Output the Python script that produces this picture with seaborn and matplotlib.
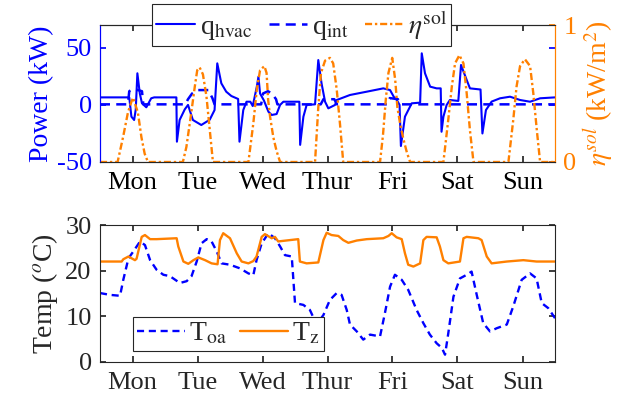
import numpy as np
import pandas as pd
import matplotlib
matplotlib.use("Agg")
import matplotlib.pyplot as plt
import seaborn as sns

# ---------------- data (hours from Monday 00:00) ----------------
days = ["Mon", "Tue", "Wed", "Thur", "Fri", "Sat", "Sun"]
day_ticks = [12, 36, 60, 84, 108, 132, 156]

hvac_h = [0, 10.8, 11.6, 12.6, 13.2, 13.8, 14.7, 15.5, 17.1, 18.9, 20, 28.2, 28.4, 29.4, 31.3,
          32.5, 34.3, 37.4, 40.5, 42.3, 43.3, 44.8, 46.6, 48.5, 51.0, 51.5, 52.9, 54.1, 55.5,
          56.4, 57.9, 58.5, 59.1, 60.5, 62.2, 63.4, 65.2, 66.5, 67.7, 73.6, 73.9, 75.1, 76.3,
          79.4, 80.6, 81.8, 83.1, 84.3, 86.8, 87.4, 92.3, 98.5, 104.6, 107.1, 108.5, 109.6,
          110.6, 111.1, 112.6, 115.1, 118.2, 118.8, 120, 121.9, 124.3, 125.8, 126.1, 126.8, 128,
          129.2, 132.3, 133.3, 135.4, 136.6, 140.5, 141.2, 142.5, 144.6, 147.7, 151.4, 155.1,
          158.8, 162.5, 168]
hvac_kw = [6.6, 6.6, -10.3, -13.2, -4, 27.7, 10, 1.4, -2.1, 5.8, 6.6, 6.6, -32.2, -13.2, -3.9,
           0, -13.2, -17.6, -13, -4.5, 36.4, 18.9, 11.6, 7.8, 5.2, -32.2, -4.5, 2.8, 2.8,
           -1, 16, 24.7, 10, 4, -6, -8.8, -8, 0, 2.8, 2.8, -35, -10.3, 0,
           0.5, 39.3, 18.9, 2.8, -3, 0, 4.3, 8.7, 11.6, 14.5, 13, 7, 4.3,
           0, -36, -10.3, 1.4, 2, 45.2, 27.7, 16, 14.5, 14.5, -23.5, -10.3, 0,
           4.3, 3.5, 35, 21.8, 14.5, 13.5, -25, -4.5, 2.9, 5.8, 7.2, 4.3,
           2.8, 5.8, 6.6]

int_h = [0, 10.3, 10.8, 12, 14, 15.5, 16, 31.5, 32.5, 34, 36, 40, 41.5, 42.3, 59.5, 60.2, 62,
         63.5, 65, 65.5, 81.5, 82.5, 86.5, 87.5, 106, 107, 110, 111, 168]
int_kw = [0.5, 0.5, 12, 14, 13, 12, 0.5, 0.5, 5, 10, 13, 13, 6, 0.5, 0.5, 10, 12,
          10, 5, 0.5, 0.5, 5, 5, 0.5, 0.5, 6, 5, 0.5, 0.5]

sol_h = [0, 6.5, 8.5, 10.3, 11.6, 12.2, 14, 15.3, 16.5, 17.7,
         30.6, 31.9, 33.7, 35, 35.9, 36.8, 38, 39.3, 40.5, 41.7,
         54.8, 56.6, 57.9, 59.1, 60.7, 61.5, 62.1, 62.8, 64, 65.2, 66.5,
         79.4, 80.6, 81.6, 83.1, 84.9, 86.1, 87.4, 88.6, 89.8,
         103.4, 104.5, 105.5, 106.5, 107.9, 109, 109.8, 110.8, 112, 113.3, 114.5,
         126.8, 128.6, 129.9, 131.1, 132.7, 134.2, 135.4, 136.6, 137.9,
         150.8, 152.6, 153.8, 155.1, 156.9, 158.8, 160, 161.3, 162.5, 168]
sol_kwm2 = [0, 0, 0.18, 0.36, 0.44, 0.47, 0.36, 0.18, 0.06, 0,
            0, 0.11, 0.36, 0.55, 0.67, 0.69, 0.64, 0.48, 0.24, 0,
            0, 0.28, 0.53, 0.67, 0.70, 0.65, 0.45, 0.33, 0.18, 0.08, 0,
            0, 0.40, 0.65, 0.74, 0.76, 0.72, 0.53, 0.28, 0,
            0, 0.2, 0.45, 0.65, 0.76, 0.6, 0.4, 0.28, 0.17, 0.07, 0,
            0, 0.31, 0.55, 0.72, 0.78, 0.72, 0.5, 0.23, 0,
            0, 0.31, 0.55, 0.70, 0.75, 0.70, 0.5, 0.23, 0, 0]

toa_h = [0, 3.7, 7.4, 8.6, 10.5, 12.3, 14.8, 16.6, 18.5, 20.9, 23.4, 25.8, 29.5, 32.0, 33.8,
         35.7, 37.5, 39.4, 41.2, 43.1, 44.9, 48.0, 51.7, 54.8, 56.6, 57.8, 59.7, 62.2, 64.6,
         66.5, 68.3, 70.8, 71.4, 72.0, 75.1, 77.5, 80.0, 82.5, 84.9, 87.4, 89.2, 91.1, 92.3,
         94.8, 97.2, 99.7, 103.4, 105.2, 107.1, 108.9, 111.4, 113.8, 116.9, 119.4, 121.8,
         124.3, 126.2, 127.4, 128.6, 130.5, 132.9, 135.4, 137.2, 139.1, 141.5, 144.0, 146.5,
         150.2, 152.6, 155.7, 158.8, 161.2, 163.1, 165.5, 168.0]
toa_c = [15.1, 14.7, 14.5, 18.0, 22.7, 24.2, 26.4, 25.6, 22.3, 20.2, 19.1, 18.8, 17.3, 17.7, 18.8,
         22.0, 26.0, 26.9, 26.4, 24.2, 21.6, 21.3, 20.5, 19.4, 19.0, 22.3, 26.0, 28.2, 27.1,
         25.3, 23.4, 23.1, 18.0, 12.9, 12.5, 11.4, 8.2, 10.3, 13.6, 15.1, 14.7, 11.4, 8.2,
         6.7, 4.9, 6.0, 5.6, 10.7, 16.5, 19.1, 18.0, 15.8, 11.4, 8.5, 6.0,
         4.1, 3.1, 1.6, 6.3, 14.3, 18.3, 19.1, 19.8, 14.7, 8.5, 6.7, 7.4,
         8.2, 12.2, 18.0, 19.4, 18.3, 12.9, 11.8, 9.6]

tz_h = [0, 8.0, 8.6, 10.5, 12.9, 13.5, 15.4, 16.6, 18.5, 20.9, 28.3, 28.9, 30.8, 32.6, 34.5,
        36.3, 38.8, 41.2, 43.4, 44.3, 45.5, 48.0, 50.5, 52.3, 54.8, 56.6, 57.8, 59.7, 60.9,
        63.4, 64.6, 65.8, 70.2, 73.2, 73.8, 76.3, 80.6, 82.5, 83.7, 85.5, 88.0, 89.8, 91.7,
        94.8, 98.5, 104.6, 106.5, 107.7, 109.5, 111.4, 112.6, 113.8, 115.7, 118.2, 119.4,
        120.6, 124.3, 125.5, 126.8, 128.6, 132.9, 134.2, 135.4, 139.7, 140.9, 142.8, 144.6,
        150.2, 156.3, 161.2, 168.0]
tz_c = [22.0, 22.0, 22.5, 23.1, 22.3, 22.6, 27.4, 27.8, 26.9, 26.9, 27.1, 25.3, 22.0, 21.5, 22.3,
        22.9, 22.3, 21.6, 21.4, 26.7, 28.2, 27.1, 23.8, 22.0, 21.6, 22.1, 23.1, 27.4, 28.0,
        27.1, 27.4, 26.4, 26.7, 26.9, 22.0, 21.6, 21.8, 26.7, 28.3, 27.8, 27.6, 26.7, 26.1,
        26.6, 26.9, 27.1, 27.6, 28.2, 27.3, 26.9, 23.8, 21.3, 20.9, 21.6, 26.7,
        27.4, 27.3, 25.3, 22.3, 21.6, 22.0, 27.1, 27.4, 27.1, 26.7, 23.1, 21.6,
        22.0, 22.3, 22.0, 22.0]

# ---------------- style ----------------
sns.set_theme(style="ticks")
plt.rcParams["font.family"] = ["Liberation Serif", "DejaVu Serif"]
plt.rcParams["mathtext.fontset"] = "stix"
plt.rcParams["font.size"] = 19
plt.rcParams["xtick.labelsize"] = 19
plt.rcParams["ytick.labelsize"] = 19
plt.rcParams["axes.labelsize"] = 20
plt.rcParams["axes.unicode_minus"] = False

BLUE = "#0000FF"
ORANGE = "#FF8000"
GRAY = "#262626"
LW = 1.5

fig = plt.figure(figsize=(6.21, 4.04), dpi=100)
W, H = 621, 404
ax1 = fig.add_axes([100 / W, (H - 162) / H, 455 / W, 137 / H])
ax3 = fig.add_axes([100 / W, (H - 362) / H, 455 / W, 137 / H])
ax2 = ax1.twinx()

# top: power
sns.lineplot(x=hvac_h, y=hvac_kw, ax=ax1, color=BLUE, lw=LW, sort=False, estimator=None,
             label=r"q$_{\rm hvac}$", legend=False)
sns.lineplot(x=int_h, y=int_kw, ax=ax1, color=BLUE, lw=LW + 0.3, sort=False, estimator=None,
             linestyle=(0, (4, 2.5)), label=r"q$_{\rm int}$", legend=False)
sns.lineplot(x=sol_h, y=sol_kwm2, ax=ax2, color=ORANGE, lw=LW + 0.2, sort=False, estimator=None,
             linestyle=(0, (3, 1.2, 1, 1.2)), label=r"$\eta^{\rm sol}$", legend=False)

ax1.set_xlim(0, 168)
ax1.set_ylim(-50, 70)
ax1.set_yticks([-50, 0, 50])
ax2.set_ylim(0, 1)
ax2.set_yticks([0, 1])
ax1.set_xticks(day_ticks)
ax1.set_xticklabels(days)
ax1.set_ylabel("Power (kW)", color=BLUE, labelpad=2)
ax2.set_ylabel(r"$\eta^{sol}$ (kW/m$^2$)", color=ORANGE, labelpad=4)

ax1.tick_params(axis="x", direction="in", length=4, top=True, color=GRAY, labelcolor="black", pad=7)
ax1.tick_params(axis="y", direction="in", length=4, right=True, color=BLUE, labelcolor=BLUE, pad=6)
ax2.tick_params(axis="y", direction="in", length=4, color=ORANGE, labelcolor=ORANGE, pad=6)
for ax in (ax1, ax2):
    ax.spines["top"].set_color(GRAY)
    ax.spines["bottom"].set_color(GRAY)
    ax.spines["left"].set_color(BLUE)
    ax.spines["right"].set_color(ORANGE)
    for s in ax.spines.values():
        s.set_linewidth(0.8)

h1, l1 = ax1.get_legend_handles_labels()
h2, l2 = ax2.get_legend_handles_labels()
leg = ax2.legend(h1 + h2, l1 + l2, ncol=3, loc="upper left", bbox_to_anchor=(0.115, 1.15),
                 frameon=True, fancybox=False, edgecolor=GRAY, framealpha=1,
                 handlelength=1.4, handletextpad=0.15, columnspacing=0.6, borderpad=0.15,
                 borderaxespad=0, fontsize=20)
leg.get_frame().set_linewidth(0.8)

# bottom: temperatures
sns.lineplot(x=toa_h, y=toa_c, ax=ax3, color=BLUE, lw=LW + 0.2, sort=False, estimator=None,
             linestyle=(0, (3, 2)), label=r"T$_{\rm oa}$", legend=False)
sns.lineplot(x=tz_h, y=tz_c, ax=ax3, color=ORANGE, lw=LW + 0.2, sort=False, estimator=None,
             label=r"T$_{\rm z}$", legend=False)
ax3.set_xlim(0, 168)
ax3.set_ylim(0, 30)
ax3.set_yticks([0, 10, 20, 30])
ax3.set_xticks(day_ticks)
ax3.set_xticklabels(days)
ax3.set_ylabel(r"Temp ($^o$C)", labelpad=4)
ax3.tick_params(direction="in", length=4, top=True, right=True, color=GRAY, pad=7)
ax3.tick_params(axis="y", pad=6)
for s in ax3.spines.values():
    s.set_color(GRAY)
    s.set_linewidth(0.8)
h3, l3 = ax3.get_legend_handles_labels()
leg3 = ax3.legend(h3, l3, ncol=2, loc="lower left", bbox_to_anchor=(0.073, 0.08),
                  frameon=True, fancybox=False, edgecolor=GRAY, framealpha=1,
                  handlelength=1.7, handletextpad=0.15, columnspacing=0.5, borderpad=0.15,
                  borderaxespad=0, fontsize=20)
leg3.get_frame().set_linewidth(0.8)

fig.savefig("out.png", dpi=100)
